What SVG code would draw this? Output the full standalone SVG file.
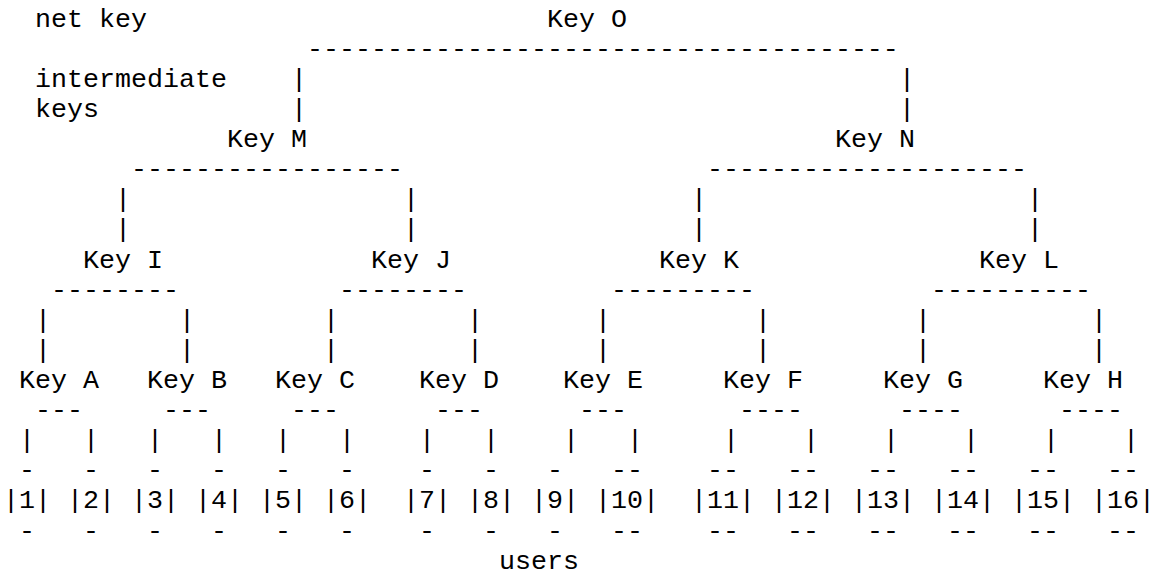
<svg xmlns="http://www.w3.org/2000/svg" width="1151" height="574" viewBox="0 0 1151 574">
<style>
text { font-family: "Liberation Mono", "Courier New", monospace; font-size: 26.667px; fill: #000; white-space: pre; }
</style>
<rect x="0" y="0" width="1151" height="574" fill="#fff"/>

<g id="labels">
  <text id="label-net-key" x="35" y="26.5">net key</text>
  <text id="label-intermediate" x="35" y="86.7">intermediate</text>
  <text id="label-keys" x="35" y="116.9">keys</text>
  <text id="label-users" x="499" y="568.7">users</text>
</g>

<g id="connectors">
  <!-- Key O -->
  <text x="307" y="56.6">-------------------------------------</text>
  <text x="291" y="86.7">|</text><text x="899" y="86.7">|</text>
  <text x="291" y="116.9">|</text><text x="899" y="116.9">|</text>
  <!-- Key M, Key N -->
  <text x="131" y="177.1">-----------------</text>
  <text x="707" y="177.1">--------------------</text>
  <text x="115" y="207.2">|</text><text x="403" y="207.2">|</text><text x="691" y="207.2">|</text><text x="1027" y="207.2">|</text>
  <text x="115" y="237.3">|</text><text x="403" y="237.3">|</text><text x="691" y="237.3">|</text><text x="1027" y="237.3">|</text>
  <!-- Key I, J, K, L -->
  <text x="51" y="297.6">--------</text>
  <text x="339" y="297.6">--------</text>
  <text x="611" y="297.6">---------</text>
  <text x="931" y="297.6">----------</text>
  <text x="35" y="327.7">|</text><text x="179" y="327.7">|</text><text x="323" y="327.7">|</text><text x="467" y="327.7">|</text>
  <text x="595" y="327.7">|</text><text x="755" y="327.7">|</text><text x="915" y="327.7">|</text><text x="1091" y="327.7">|</text>
  <text x="35" y="357.8">|</text><text x="179" y="357.8">|</text><text x="323" y="357.8">|</text><text x="467" y="357.8">|</text>
  <text x="595" y="357.8">|</text><text x="755" y="357.8">|</text><text x="915" y="357.8">|</text><text x="1091" y="357.8">|</text>
  <!-- Key A..H -->
  <text x="35" y="418.1">---</text>
  <text x="163" y="418.1">---</text>
  <text x="291" y="418.1">---</text>
  <text x="435" y="418.1">---</text>
  <text x="579" y="418.1">---</text>
  <text x="739" y="418.1">----</text>
  <text x="899" y="418.1">----</text>
  <text x="1059" y="418.1">----</text>
  <text x="19" y="448.2">|</text><text x="83" y="448.2">|</text>
  <text x="147" y="448.2">|</text><text x="211" y="448.2">|</text>
  <text x="275" y="448.2">|</text><text x="339" y="448.2">|</text>
  <text x="419" y="448.2">|</text><text x="483" y="448.2">|</text>
  <text x="563" y="448.2">|</text><text x="627" y="448.2">|</text>
  <text x="723" y="448.2">|</text><text x="803" y="448.2">|</text>
  <text x="883" y="448.2">|</text><text x="963" y="448.2">|</text>
  <text x="1043" y="448.2">|</text><text x="1123" y="448.2">|</text>
</g>

<g id="key-O"><text x="547" y="26.5">Key O</text></g>
<g id="key-M"><text x="227" y="147.0">Key M</text></g>
<g id="key-N"><text x="835" y="147.0">Key N</text></g>
<g id="key-I"><text x="83" y="267.5">Key I</text></g>
<g id="key-J"><text x="371" y="267.5">Key J</text></g>
<g id="key-K"><text x="659" y="267.5">Key K</text></g>
<g id="key-L"><text x="979" y="267.5">Key L</text></g>
<g id="key-A"><text x="19" y="387.9">Key A</text></g>
<g id="key-B"><text x="147" y="387.9">Key B</text></g>
<g id="key-C"><text x="275" y="387.9">Key C</text></g>
<g id="key-D"><text x="419" y="387.9">Key D</text></g>
<g id="key-E"><text x="563" y="387.9">Key E</text></g>
<g id="key-F"><text x="723" y="387.9">Key F</text></g>
<g id="key-G"><text x="883" y="387.9">Key G</text></g>
<g id="key-H"><text x="1043" y="387.9">Key H</text></g>

<g id="user-1"><text x="19" y="478.3">-</text><text x="3" y="508.4">|1|</text><text x="19" y="538.5">-</text></g>
<g id="user-2"><text x="83" y="478.3">-</text><text x="67" y="508.4">|2|</text><text x="83" y="538.5">-</text></g>
<g id="user-3"><text x="147" y="478.3">-</text><text x="131" y="508.4">|3|</text><text x="147" y="538.5">-</text></g>
<g id="user-4"><text x="211" y="478.3">-</text><text x="195" y="508.4">|4|</text><text x="211" y="538.5">-</text></g>
<g id="user-5"><text x="275" y="478.3">-</text><text x="259" y="508.4">|5|</text><text x="275" y="538.5">-</text></g>
<g id="user-6"><text x="339" y="478.3">-</text><text x="323" y="508.4">|6|</text><text x="339" y="538.5">-</text></g>
<g id="user-7"><text x="419" y="478.3">-</text><text x="403" y="508.4">|7|</text><text x="419" y="538.5">-</text></g>
<g id="user-8"><text x="483" y="478.3">-</text><text x="467" y="508.4">|8|</text><text x="483" y="538.5">-</text></g>
<g id="user-9"><text x="547" y="478.3">-</text><text x="531" y="508.4">|9|</text><text x="547" y="538.5">-</text></g>
<g id="user-10"><text x="611" y="478.3">--</text><text x="595" y="508.4">|10|</text><text x="611" y="538.5">--</text></g>
<g id="user-11"><text x="707" y="478.3">--</text><text x="691" y="508.4">|11|</text><text x="707" y="538.5">--</text></g>
<g id="user-12"><text x="787" y="478.3">--</text><text x="771" y="508.4">|12|</text><text x="787" y="538.5">--</text></g>
<g id="user-13"><text x="867" y="478.3">--</text><text x="851" y="508.4">|13|</text><text x="867" y="538.5">--</text></g>
<g id="user-14"><text x="947" y="478.3">--</text><text x="931" y="508.4">|14|</text><text x="947" y="538.5">--</text></g>
<g id="user-15"><text x="1027" y="478.3">--</text><text x="1011" y="508.4">|15|</text><text x="1027" y="538.5">--</text></g>
<g id="user-16"><text x="1107" y="478.3">--</text><text x="1091" y="508.4">|16|</text><text x="1107" y="538.5">--</text></g>
</svg>
